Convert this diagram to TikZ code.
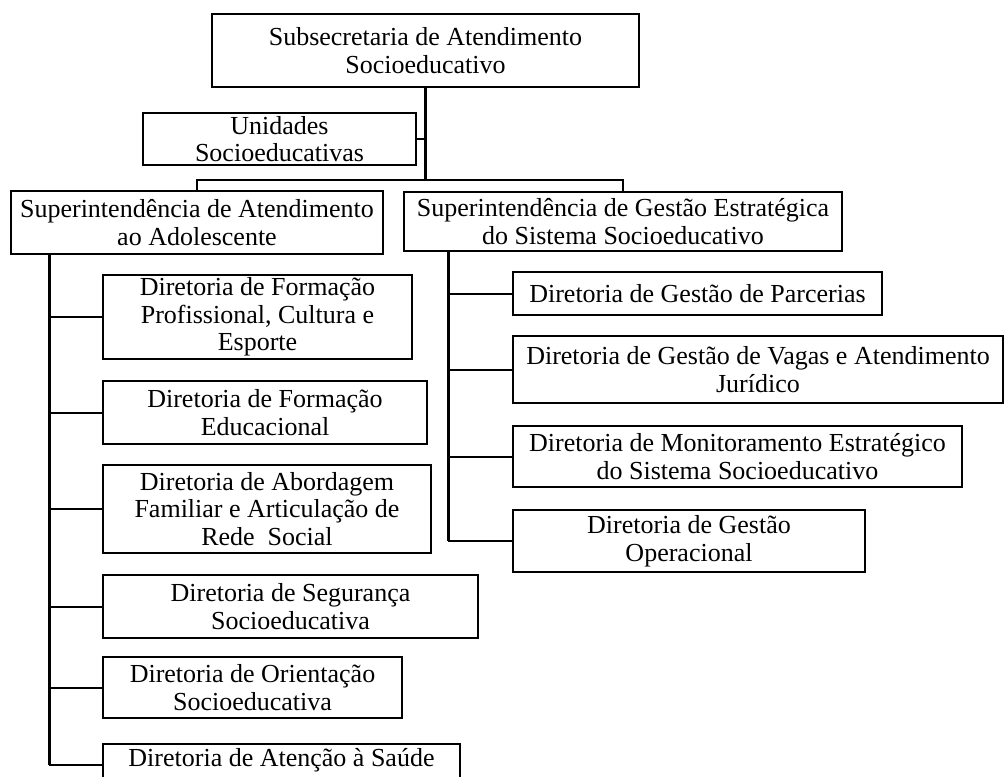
\documentclass[tikz,border=0pt]{standalone}
\usepackage{fontspec}
\setmainfont{Liberation Serif}
\usepackage{tikz}

\begin{document}
\begin{tikzpicture}[x=1pt,y=-1pt,
	orgbox/.style={draw=black,line width=1.6pt,fill=white,align=center,inner sep=0pt,
		font=\fontsize{26}{27.5}\selectfont},
	trunk/.style={line width=3pt},
	link/.style={line width=2pt}]
	\useasboundingbox (0,0) rectangle (1005,777);

	% top level
	\node[orgbox,minimum width=427,minimum height=73] (sub) at (425.5,50.5) {Subsecretaria de Atendimento\\Socioeducativo};
	\node[orgbox,minimum width=273,minimum height=52] (unid) at (279.5,139) {Unidades\\Socioeducativas};

	\node[orgbox,minimum width=372,minimum height=63] (supA) at (197,222.5) {Superintendência de Atendimento\\ao Adolescente};
	\node[orgbox,minimum width=438,minimum height=59] (supG) at (623,221.5) {Superintendência de Gestão Estratégica\\do Sistema Socioeducativo};

	% left column
	\node[orgbox,minimum width=309,minimum height=84] (dirFP) at (257.5,317) {Diretoria de Formação\\Profissional, Cultura e\\Esporte};
	\node[orgbox,minimum width=324,minimum height=63] (dirFE) at (265,412.5) {Diretoria de Formação\\Educacional};
	\node[orgbox,minimum width=328,minimum height=88] (dirAF) at (267,509) {Diretoria de Abordagem\\Familiar e Articulação de\\Rede\ \ Social};
	\node[orgbox,minimum width=375,minimum height=63] (dirSS) at (290.5,606.5) {Diretoria de Segurança\\Socioeducativa};
	\node[orgbox,minimum width=299,minimum height=61] (dirOS) at (252.5,687.5) {Diretoria de Orientação\\Socioeducativa};
	\node[orgbox,anchor=north,minimum width=357,minimum height=50,text depth=22pt] (dirAS) at (281.5,743) {Diretoria de Atenção à Saúde};

	% right column
	\node[orgbox,minimum width=369,minimum height=43] (dirGP) at (697.5,293.5) {Diretoria de Gestão de Parcerias};
	\node[orgbox,minimum width=490,minimum height=67] (dirGV) at (758,369.5) {Diretoria de Gestão de Vagas e Atendimento\\Jurídico};
	\node[orgbox,minimum width=449,minimum height=61] (dirGM) at (737.5,456.5) {Diretoria de Monitoramento Estratégico\\do Sistema Socioeducativo};
	\node[orgbox,minimum width=352,minimum height=62] (dirGO) at (689,541) {Diretoria de Gestão\\Operacional};

	\coordinate (bar) at (425.5,180);
	\coordinate (trunkA) at (49,0);
	\coordinate (trunkG) at (448,0);

	\draw[trunk] (sub.south) -- (bar);
	\draw[link] (unid.east) -- (unid.east -| bar);
	\draw[link] (supA.north) |- (bar) -| (supG.north);

	\draw[trunk] (trunkA |- supA.south) -- (trunkA |- dirAS.mid west);
	\foreach \d in {dirFP,dirFE,dirAF,dirSS,dirOS}
		\draw[link] (\d.west) -- (\d.west -| trunkA);
	\draw[link] (dirAS.mid west) -- (dirAS.mid west -| trunkA);

	\draw[trunk] (trunkG |- supG.south) -- (trunkG |- dirGO.west);
	\foreach \d in {dirGP,dirGV,dirGM,dirGO}
		\draw[link] (\d.west) -- (\d.west -| trunkG);
\end{tikzpicture}
\end{document}
